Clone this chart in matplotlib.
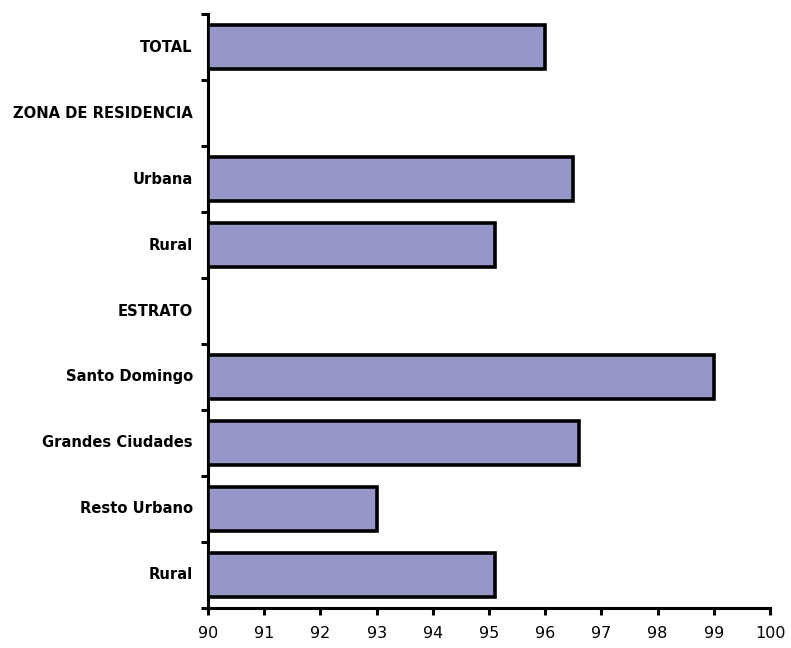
import numpy as np
import matplotlib
matplotlib.use("Agg")
import matplotlib.pyplot as plt

# categories top to bottom; None = section heading with no bar
categorias = ["TOTAL", "ZONA DE RESIDENCIA", "Urbana", "Rural", "ESTRATO",
              "Santo Domingo", "Grandes Ciudades", "Resto Urbano", "Rural"]
valores = [96.0, None, 96.5, 95.1, None, 99.0, 96.6, 93.0, 95.1]
x_ticks = list(range(90, 101))

fig = plt.figure(figsize=(7.91, 6.48), dpi=100)
ax = fig.add_axes([0.263, 0.062, 0.7105, 0.916])

n = len(categorias)
pos = np.arange(n)[::-1]  # first category on top
for y, v in zip(pos, valores):
    if v is None:
        continue
    ax.barh(y, v - 90, left=90, height=0.67, color="#9696C8",
            edgecolor="black", linewidth=2.6, zorder=3)

ax.set_xlim(90, 100)
ax.set_ylim(-0.5, n - 0.5)

# category labels as text, ticks at category boundaries
ax.set_yticks(np.arange(-0.5, n, 1.0))
ax.set_yticklabels([])
for y, lab in zip(pos, categorias):
    ax.text(-0.027, y, lab, transform=ax.get_yaxis_transform(),
            ha="right", va="center", fontsize=10.6, fontweight="bold",
            family="DejaVu Sans")

ax.set_xticks(x_ticks)
ax.set_xticklabels([str(t) for t in x_ticks], fontsize=11.5,
                   family="DejaVu Sans")

for s in ["top", "right"]:
    ax.spines[s].set_visible(False)
for s in ["left", "bottom"]:
    ax.spines[s].set_linewidth(2.2)
ax.tick_params(axis="both", direction="out", length=5, width=2.2)
ax.tick_params(axis="x", pad=8)

fig.savefig("out.png", dpi=100)
